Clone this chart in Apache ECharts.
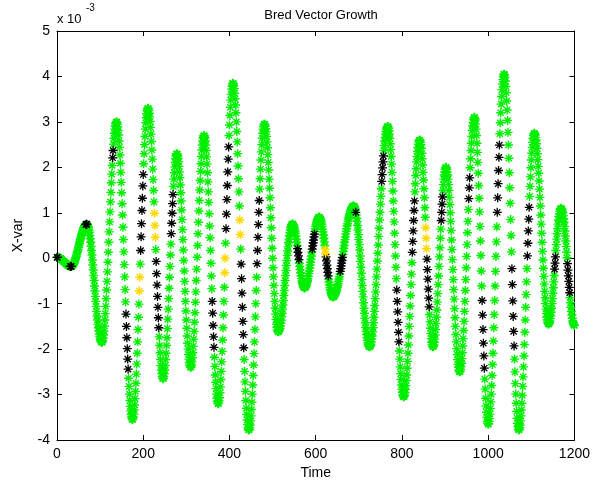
<!DOCTYPE html>
<html>
<head>
<meta charset="utf-8">
<title>Bred Vector Growth</title>
<script src="https://cdn.jsdelivr.net/npm/echarts@6/dist/echarts.min.js"></script>
<style>
html,body{margin:0;padding:0;background:#fff;}
#main{width:593px;height:491px;}
</style>
</head>
<body>
<div id="main"></div>
<script>
// X-var (x 1e-3) at each time step, t = 0 .. 1200
var xvar = [
  // 0 - 33
  0.02,0.02,0.02,0.02,0.01,0.01,0,0,-0.01,-0.01,-0.02,-0.03,-0.04,-0.05,-0.06,-0.07,-0.08,-0.08,-0.09,-0.1,-0.11,-0.12,-0.13,-0.14,-0.15,-0.15,-0.16,-0.16,-0.17,-0.17,-0.18,-0.18,-0.18,-0.18,
  // 34 - 69
  -0.18,-0.17,-0.16,-0.15,-0.14,-0.12,-0.1,-0.07,-0.04,-0.01,0.02,0.05,0.09,0.13,0.16,0.2,0.24,0.29,0.33,0.37,0.41,0.44,0.48,0.52,0.55,0.58,0.61,0.64,0.67,0.69,0.71,0.72,0.73,0.74,0.75,0.75,
  // 70 - 104
  0.74,0.73,0.7,0.67,0.62,0.57,0.5,0.43,0.35,0.26,0.17,0.07,-0.04,-0.15,-0.26,-0.38,-0.49,-0.61,-0.72,-0.84,-0.95,-1.06,-1.17,-1.27,-1.36,-1.45,-1.53,-1.6,-1.67,-1.72,-1.77,-1.8,-1.83,-1.85,-1.85,
  // 105 - 138
  -1.84,-1.81,-1.76,-1.69,-1.6,-1.49,-1.36,-1.22,-1.06,-0.89,-0.7,-0.51,-0.3,-0.09,0.13,0.35,0.58,0.8,1.02,1.24,1.45,1.66,1.85,2.04,2.21,2.37,2.51,2.64,2.75,2.84,2.91,2.96,2.99,3,
  // 139 - 175
  2.99,2.95,2.89,2.81,2.71,2.58,2.44,2.27,2.09,1.89,1.67,1.44,1.2,0.95,0.68,0.41,0.14,-0.14,-0.41,-0.69,-0.96,-1.23,-1.5,-1.75,-1.99,-2.22,-2.44,-2.64,-2.82,-2.99,-3.13,-3.26,-3.36,-3.44,-3.5,-3.54,-3.55,
  // 176 - 211
  -3.54,-3.5,-3.43,-3.34,-3.23,-3.09,-2.93,-2.75,-2.55,-2.33,-2.09,-1.84,-1.57,-1.3,-1.01,-0.72,-0.42,-0.13,0.17,0.47,0.76,1.05,1.32,1.59,1.84,2.08,2.3,2.5,2.68,2.84,2.98,3.09,3.18,3.25,3.29,3.3,
  // 212 - 246
  3.29,3.25,3.19,3.11,3.01,2.88,2.73,2.57,2.38,2.18,1.96,1.73,1.49,1.24,0.99,0.72,0.46,0.19,-0.07,-0.34,-0.59,-0.84,-1.08,-1.31,-1.53,-1.73,-1.92,-2.08,-2.23,-2.36,-2.46,-2.54,-2.6,-2.64,-2.65,
  // 247 - 278
  -2.64,-2.6,-2.54,-2.46,-2.36,-2.23,-2.09,-1.92,-1.75,-1.55,-1.34,-1.12,-0.89,-0.66,-0.42,-0.18,0.07,0.31,0.54,0.77,0.99,1.2,1.4,1.58,1.74,1.88,2.01,2.11,2.19,2.25,2.29,2.3,
  // 279 - 310
  2.29,2.25,2.2,2.12,2.02,1.9,1.77,1.61,1.44,1.26,1.06,0.85,0.63,0.41,0.18,-0.05,-0.28,-0.51,-0.73,-0.95,-1.16,-1.36,-1.54,-1.71,-1.87,-2,-2.12,-2.22,-2.3,-2.35,-2.39,-2.4,
  // 311 - 341
  -2.39,-2.35,-2.28,-2.19,-2.08,-1.94,-1.78,-1.61,-1.41,-1.2,-0.97,-0.74,-0.49,-0.24,0.02,0.28,0.54,0.79,1.04,1.27,1.5,1.71,1.91,2.08,2.24,2.38,2.49,2.58,2.65,2.69,2.7,
  // 342 - 374
  2.69,2.65,2.58,2.49,2.37,2.23,2.07,1.88,1.68,1.46,1.23,0.98,0.71,0.45,0.17,-0.11,-0.39,-0.67,-0.95,-1.21,-1.48,-1.73,-1.96,-2.18,-2.38,-2.57,-2.73,-2.87,-2.99,-3.08,-3.15,-3.19,-3.2,
  // 375 - 408
  -3.19,-3.14,-3.07,-2.96,-2.83,-2.67,-2.49,-2.28,-2.05,-1.8,-1.53,-1.25,-0.95,-0.64,-0.32,0,0.33,0.65,0.97,1.29,1.6,1.9,2.18,2.45,2.7,2.93,3.14,3.32,3.48,3.61,3.72,3.79,3.84,3.85,
  // 409 - 445
  3.84,3.8,3.73,3.63,3.51,3.37,3.2,3,2.79,2.56,2.3,2.03,1.75,1.46,1.15,0.84,0.52,0.2,-0.13,-0.45,-0.77,-1.08,-1.39,-1.68,-1.97,-2.23,-2.49,-2.72,-2.93,-3.13,-3.3,-3.44,-3.56,-3.66,-3.73,-3.77,-3.78,
  // 446 - 481
  -3.77,-3.73,-3.67,-3.58,-3.47,-3.33,-3.17,-2.99,-2.79,-2.58,-2.35,-2.1,-1.84,-1.57,-1.29,-1,-0.71,-0.42,-0.12,0.17,0.46,0.74,1.01,1.27,1.52,1.75,1.96,2.16,2.34,2.5,2.64,2.75,2.84,2.9,2.94,2.95,
  // 482 - 513
  2.94,2.91,2.85,2.78,2.68,2.56,2.43,2.28,2.11,1.94,1.74,1.54,1.33,1.11,0.89,0.67,0.44,0.22,0,-0.21,-0.41,-0.6,-0.78,-0.95,-1.1,-1.23,-1.35,-1.45,-1.52,-1.58,-1.61,-1.62,
  // 514 - 546
  -1.61,-1.6,-1.57,-1.54,-1.49,-1.43,-1.37,-1.29,-1.21,-1.12,-1.03,-0.93,-0.82,-0.71,-0.6,-0.49,-0.38,-0.27,-0.16,-0.05,0.06,0.16,0.25,0.34,0.42,0.5,0.56,0.62,0.67,0.7,0.73,0.75,0.75,
  // 547 - 574
  0.75,0.73,0.71,0.68,0.64,0.6,0.55,0.49,0.42,0.35,0.28,0.21,0.13,0.05,-0.03,-0.11,-0.18,-0.25,-0.32,-0.39,-0.45,-0.5,-0.54,-0.58,-0.61,-0.63,-0.65,-0.65,
  // 575 - 608
  -0.65,-0.64,-0.62,-0.6,-0.57,-0.53,-0.49,-0.45,-0.4,-0.34,-0.28,-0.22,-0.15,-0.09,-0.02,0.05,0.13,0.2,0.27,0.34,0.4,0.47,0.53,0.59,0.65,0.7,0.74,0.78,0.82,0.85,0.87,0.89,0.9,0.9,
  // 609 - 640
  0.9,0.88,0.86,0.83,0.8,0.75,0.7,0.64,0.58,0.51,0.44,0.36,0.28,0.2,0.11,0.03,-0.06,-0.15,-0.23,-0.31,-0.39,-0.46,-0.53,-0.59,-0.65,-0.7,-0.75,-0.78,-0.81,-0.83,-0.85,-0.85,
  // 641 - 688
  -0.85,-0.84,-0.83,-0.82,-0.8,-0.77,-0.75,-0.72,-0.68,-0.64,-0.6,-0.56,-0.51,-0.46,-0.41,-0.35,-0.29,-0.23,-0.17,-0.11,-0.05,0.02,0.08,0.15,0.22,0.28,0.35,0.41,0.47,0.53,0.59,0.65,0.71,0.76,0.81,0.86,0.9,0.94,0.98,1.02,1.05,1.07,1.1,1.12,1.13,1.14,1.15,1.15,
  // 689 - 725
  1.14,1.13,1.1,1.06,1.01,0.95,0.88,0.81,0.72,0.62,0.52,0.41,0.3,0.18,0.05,-0.07,-0.2,-0.33,-0.47,-0.6,-0.73,-0.85,-0.98,-1.1,-1.21,-1.32,-1.42,-1.52,-1.61,-1.68,-1.75,-1.81,-1.86,-1.9,-1.93,-1.94,-1.95,
  // 726 - 767
  -1.94,-1.92,-1.89,-1.84,-1.78,-1.71,-1.62,-1.53,-1.42,-1.3,-1.17,-1.04,-0.89,-0.74,-0.58,-0.41,-0.24,-0.06,0.11,0.29,0.48,0.66,0.84,1.01,1.19,1.36,1.53,1.69,1.84,1.99,2.12,2.25,2.37,2.48,2.58,2.66,2.73,2.79,2.84,2.87,2.89,2.9,
  // 768 - 804
  2.89,2.86,2.8,2.73,2.64,2.52,2.39,2.24,2.07,1.89,1.69,1.48,1.26,1.03,0.8,0.55,0.3,0.05,-0.2,-0.45,-0.7,-0.95,-1.18,-1.41,-1.63,-1.84,-2.04,-2.22,-2.39,-2.54,-2.67,-2.79,-2.88,-2.95,-3.01,-3.04,-3.05,
  // 805 - 841
  -3.04,-3.01,-2.96,-2.89,-2.8,-2.69,-2.57,-2.42,-2.27,-2.09,-1.91,-1.71,-1.5,-1.28,-1.05,-0.82,-0.58,-0.35,-0.1,0.13,0.37,0.6,0.83,1.05,1.26,1.46,1.64,1.82,1.97,2.12,2.24,2.35,2.44,2.51,2.56,2.59,2.6,
  // 842 - 872
  2.59,2.55,2.5,2.42,2.31,2.19,2.05,1.89,1.72,1.53,1.33,1.11,0.9,0.67,0.44,0.21,-0.02,-0.25,-0.46,-0.68,-0.88,-1.07,-1.24,-1.4,-1.54,-1.66,-1.77,-1.85,-1.9,-1.94,-1.95,
  // 873 - 902
  -1.94,-1.91,-1.85,-1.78,-1.69,-1.57,-1.44,-1.3,-1.14,-0.96,-0.78,-0.58,-0.39,-0.18,0.03,0.23,0.44,0.64,0.83,1.01,1.19,1.35,1.49,1.62,1.74,1.83,1.9,1.96,1.99,2,
  // 903 - 934
  1.99,1.96,1.9,1.83,1.74,1.62,1.49,1.34,1.18,1,0.81,0.61,0.4,0.19,-0.03,-0.25,-0.47,-0.69,-0.9,-1.11,-1.31,-1.5,-1.68,-1.84,-1.99,-2.12,-2.23,-2.33,-2.4,-2.46,-2.49,-2.5,
  // 935 - 968
  -2.49,-2.45,-2.39,-2.31,-2.21,-2.08,-1.93,-1.77,-1.59,-1.39,-1.17,-0.95,-0.71,-0.47,-0.21,0.04,0.3,0.56,0.81,1.07,1.31,1.55,1.77,1.99,2.19,2.37,2.53,2.68,2.81,2.91,2.99,3.05,3.09,3.1,
  // 969 - 1000
  3.08,3.04,2.95,2.84,2.7,2.53,2.33,2.11,1.87,1.6,1.32,1.02,0.7,0.38,0.06,-0.28,-0.61,-0.93,-1.25,-1.57,-1.87,-2.15,-2.42,-2.66,-2.88,-3.08,-3.25,-3.39,-3.5,-3.59,-3.63,-3.65,
  // 1001 - 1037
  -3.64,-3.59,-3.53,-3.43,-3.31,-3.16,-2.99,-2.8,-2.58,-2.34,-2.09,-1.82,-1.53,-1.24,-0.93,-0.61,-0.29,0.04,0.36,0.69,1.01,1.33,1.64,1.93,2.22,2.49,2.74,2.98,3.2,3.39,3.56,3.71,3.83,3.93,4,4.04,4.05,
  // 1038 - 1071
  4.03,3.98,3.9,3.78,3.64,3.46,3.26,3.03,2.77,2.49,2.2,1.88,1.55,1.21,0.85,0.5,0.14,-0.23,-0.58,-0.94,-1.28,-1.61,-1.93,-2.22,-2.5,-2.76,-2.99,-3.19,-3.37,-3.52,-3.63,-3.71,-3.76,-3.78,
  // 1072 - 1107
  -3.77,-3.73,-3.67,-3.58,-3.47,-3.34,-3.19,-3.02,-2.82,-2.61,-2.39,-2.15,-1.9,-1.63,-1.36,-1.08,-0.8,-0.52,-0.23,0.05,0.33,0.6,0.86,1.12,1.36,1.58,1.79,1.99,2.16,2.31,2.44,2.55,2.64,2.7,2.74,2.75,
  // 1108 - 1140
  2.74,2.71,2.66,2.6,2.52,2.42,2.3,2.17,2.02,1.87,1.7,1.52,1.34,1.15,0.95,0.75,0.55,0.35,0.15,-0.04,-0.22,-0.4,-0.57,-0.73,-0.87,-1,-1.12,-1.22,-1.3,-1.36,-1.41,-1.44,-1.45,
  // 1141 - 1169
  -1.44,-1.42,-1.38,-1.33,-1.27,-1.19,-1.1,-1,-0.89,-0.77,-0.65,-0.52,-0.38,-0.24,-0.11,0.03,0.17,0.3,0.42,0.54,0.65,0.75,0.84,0.92,0.98,1.03,1.07,1.09,1.1,
  // 1170 - 1200
  1.09,1.07,1.04,1,0.94,0.87,0.79,0.7,0.6,0.49,0.38,0.26,0.13,0.01,-0.12,-0.26,-0.39,-0.51,-0.64,-0.76,-0.87,-0.98,-1.08,-1.17,-1.25,-1.32,-1.38,-1.42,-1.45,-1.47,-1.48
];

// time steps marked black / yellow, [from, to]
var blackSteps = [[0,1],[31,33],[67,69],[129,130],[160,165],[194,200],[230,236],[265,269],
  [360,364],[392,398],[427,433],[464,469],[558,561],[592,597],[624,629],[657,662],[693,693],
  [753,757],[788,793],[824,829],[858,863],[891,894],[955,957],[986,991],[1021,1026],
  [1055,1060],[1091,1095],[1154,1156],[1184,1189]];
var yellowSteps = [[191,192],[226,228],[389,390],[424,425],[622,623],[855,857]];

var timeRange = [0, 1200];
var yRange = [-4, 5];

function inSteps(t, list) {
  for (var i = 0; i < list.length; i++) {
    if (t >= list[i][0] && t <= list[i][1]) return true;
  }
  return false;
}

var greenPts = [], blackPts = [], yellowPts = [];
xvar.forEach(function (v, t) {
  if (inSteps(t, yellowSteps)) yellowPts.push([t, v]);
  else if (inSteps(t, blackSteps)) blackPts.push([t, v]);
  else greenPts.push([t, v]);
});

var star = 'path://M0,5L10,5M5,0L5,10M1.6,1.6L8.4,8.4M1.6,8.4L8.4,1.6';
var font = '"Liberation Sans", Arial, Helvetica, sans-serif';

function starSeries(data, color, width) {
  return {
    type: 'scatter',
    data: data,
    symbol: star,
    symbolSize: 9,
    clip: false,
    progressive: 0,
    itemStyle: { color: 'rgba(0,0,0,0)', borderColor: color, borderWidth: width, opacity: 1 },
    emphasis: { disabled: true },
    silent: true
  };
}

function plainNum(v) { return String(v); }

function timeAxis(pos, showLabel) {
  return {
    type: 'value', position: pos,
    min: timeRange[0], max: timeRange[1], interval: 200,
    axisLine: { show: true, onZero: false, lineStyle: { color: '#000', width: 1 } },
    axisTick: { show: true, inside: true, length: 5, lineStyle: { color: '#000' } },
    axisLabel: { show: showLabel, color: '#000', fontSize: 14, fontFamily: font, margin: 7, formatter: plainNum },
    splitLine: { show: false },
    name: showLabel ? 'Time' : '',
    nameLocation: 'middle', nameGap: 26,
    nameTextStyle: { color: '#000', fontSize: 14, fontFamily: font }
  };
}

function valueAxis(pos, showLabel) {
  return {
    type: 'value', position: pos,
    min: yRange[0], max: yRange[1], interval: 1,
    axisLine: { show: true, onZero: false, lineStyle: { color: '#000', width: 1 } },
    axisTick: { show: true, inside: true, length: 5, lineStyle: { color: '#000' } },
    axisLabel: { show: showLabel, color: '#000', fontSize: 14, fontFamily: font, margin: 7, formatter: plainNum },
    splitLine: { show: false },
    name: showLabel ? 'X-var' : '',
    nameLocation: 'middle', nameGap: 32, nameRotate: 90,
    nameTextStyle: { color: '#000', fontSize: 14, fontFamily: font }
  };
}

var chart = echarts.init(document.getElementById('main'), null, { renderer: 'canvas' });
chart.setOption({
  backgroundColor: '#fff',
  animation: false,
  title: {
    text: 'Bred Vector Growth',
    left: 316, top: 4, textAlign: 'center',
    textStyle: { color: '#000', fontSize: 13, fontWeight: 'normal', fontFamily: font }
  },
  grid: { left: 57, right: 18, top: 31, bottom: 51 },
  xAxis: [timeAxis('bottom', true), timeAxis('top', false)],
  yAxis: [valueAxis('left', true), valueAxis('right', false)],
  graphic: [
    { type: 'text', left: 57, top: 13, style: { text: 'x 10', fill: '#000', font: '13px ' + font } },
    { type: 'text', left: 86, top: 3, style: { text: '-3', fill: '#000', font: '10px ' + font } }
  ],
  series: [
    starSeries(greenPts, '#00ee00', 1.4),
    starSeries(blackPts, '#000000', 1.3),
    starSeries(yellowPts, '#ffd800', 1.4)
  ]
});
</script>
</body>
</html>
